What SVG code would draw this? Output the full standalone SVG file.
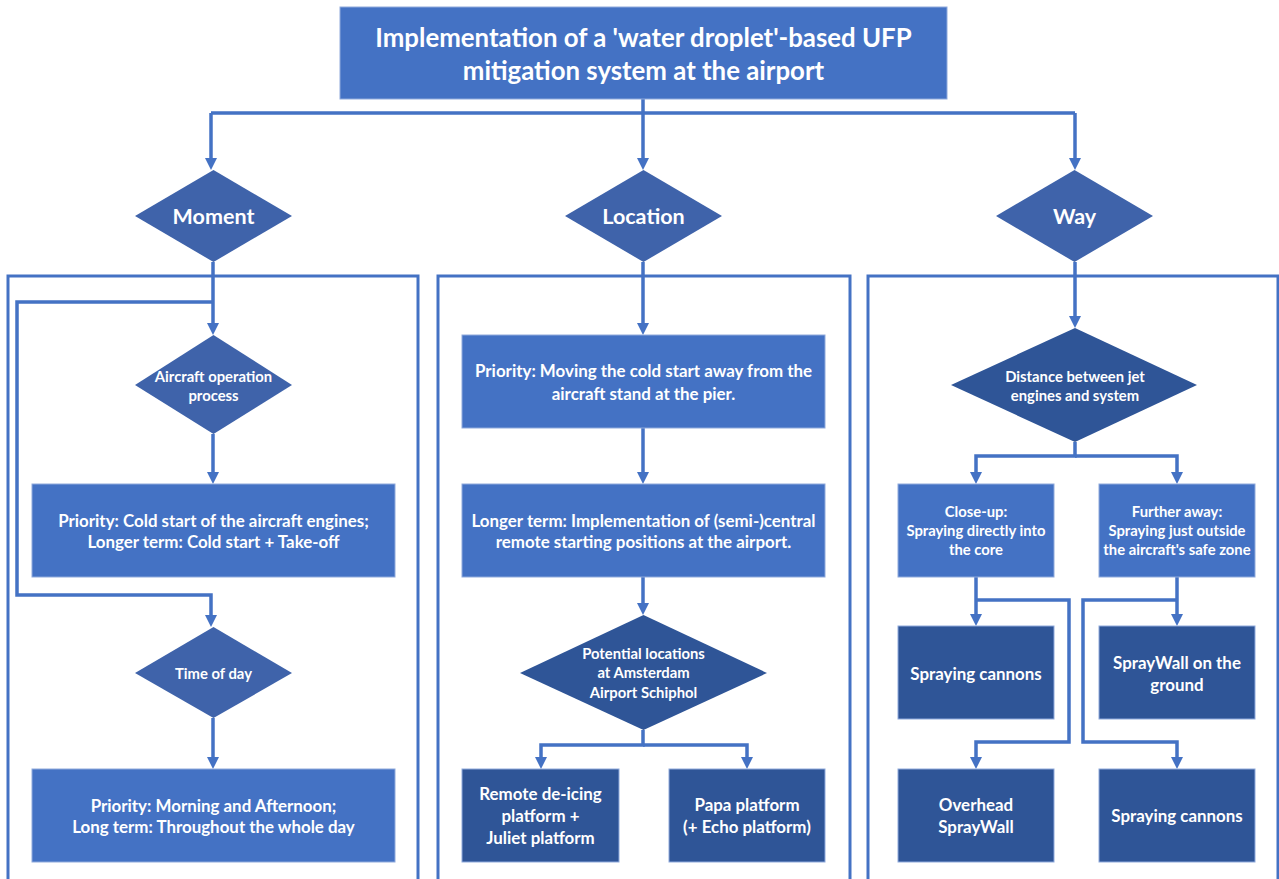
<svg xmlns="http://www.w3.org/2000/svg" width="1279" height="879" viewBox="0 0 1279 879">
  <style>
    .light { fill: #4472C4; stroke: #8FAADC; stroke-width: 1; }
    .dark { fill: #2F5597; stroke: #8FAADC; stroke-width: 1; }
    .dmid { fill: #3F63AA; }
    .ddark { fill: #2F5597; }
    .panel { fill: none; stroke: #4472C4; stroke-width: 3; }
    .conn { fill: none; stroke: #4472C4; stroke-width: 3.5; }
    .arr { marker-end: url(#ah); }
    text { font-family: Lato, "Open Sans", "Liberation Sans", sans-serif; font-weight: bold; fill: #FFFFFF; text-anchor: middle; dominant-baseline: central; }
    .t24 { font-size: 25.8px; }
    .t19 { font-size: 21.5px; }
    .t16 { font-size: 16.9px; }
    .t15 { font-size: 16.9px; }
    .t14 { font-size: 14.8px; }
  </style>
  <defs>
    <marker id="ah" viewBox="0 0 12 12" refX="6" refY="6" markerWidth="12" markerHeight="12" markerUnits="userSpaceOnUse" orient="auto">
      <path d="M0,0 L12,6 L0,12 z" fill="#4472C4"/>
    </marker>
  </defs>
  <rect width="1279" height="879" fill="#FFFFFF"/>

  <!-- column panels -->
  <g id="panels">
    <rect class="panel" x="8" y="276" width="410" height="640"/>
    <rect class="panel" x="438" y="276" width="412" height="640"/>
    <rect class="panel" x="868" y="276" width="410" height="640"/>
  </g>

  <!-- connectors -->
  <g id="connectors">
    <path class="conn" d="M643,99 V113 M211,113 H1075"/>
    <path class="conn arr" d="M211,113 V164"/>
    <path class="conn arr" d="M643,113 V164"/>
    <path class="conn arr" d="M1075,113 V164"/>
    <!-- Moment -->
    <path class="conn arr" d="M213,262 V329"/>
    <path class="conn arr" d="M213,302 H17 V595 H211 V621"/>
    <path class="conn arr" d="M213,434 V478"/>
    <path class="conn arr" d="M213,718 V763"/>
    <!-- Location -->
    <path class="conn arr" d="M643,262 V329"/>
    <path class="conn arr" d="M643,428 V478"/>
    <path class="conn arr" d="M643,577 V609"/>
    <path class="conn arr" d="M643,730 V745 H541 V763"/>
    <path class="conn arr" d="M643,745 H747 V763"/>
    <!-- Way -->
    <path class="conn arr" d="M1075,262 V322"/>
    <path class="conn arr" d="M1075,442 V456 H976 V478"/>
    <path class="conn arr" d="M1075,456 H1177 V478"/>
    <path class="conn arr" d="M976,577 V620"/>
    <path class="conn arr" d="M976,600 H1069 V742 H976 V763"/>
    <path class="conn arr" d="M1177,577 V620"/>
    <path class="conn arr" d="M1177,600 H1083 V742 H1177 V763"/>
  </g>

  <g id="title">
    <rect class="light" x="340" y="7" width="607" height="92"/>
    <text class="t24" x="643.5" y="37">Implementation of a 'water droplet'-based UFP</text>
    <text class="t24" x="643.5" y="70">mitigation system at the airport</text>
  </g>

  <g id="moment">
    <polygon class="dmid" points="213.5,170 292,216 213.5,262 135,216"/>
    <text class="t19" x="213.5" y="216">Moment</text>
  </g>
  <g id="location">
    <polygon class="dmid" points="643.5,170 722,216 643.5,262 565,216"/>
    <text class="t19" x="643.5" y="216">Location</text>
  </g>
  <g id="way">
    <polygon class="dmid" points="1074.5,170 1153,216 1074.5,262 996,216"/>
    <text class="t19" x="1074.5" y="216">Way</text>
  </g>

  <!-- Moment column -->
  <g id="aircraft-operation">
    <polygon class="dmid" points="213.5,335 292,385 213.5,434 135,385"/>
    <text class="t14" x="213.5" y="376">Aircraft operation</text>
    <text class="t14" x="213.5" y="395">process</text>
  </g>
  <g id="cold-start">
    <rect class="light" x="32" y="484" width="363" height="93"/>
    <text class="t15" x="213.5" y="520">Priority: Cold start of the aircraft engines;</text>
    <text class="t15" x="213.5" y="541">Longer term: Cold start + Take-off</text>
  </g>
  <g id="time-of-day">
    <polygon class="dmid" points="213.5,627 292,673 213.5,718 135,673"/>
    <text class="t14" x="213.5" y="673">Time of day</text>
  </g>
  <g id="day-period">
    <rect class="light" x="32" y="769" width="363" height="93"/>
    <text class="t15" x="213.5" y="805">Priority: Morning and Afternoon;</text>
    <text class="t15" x="213.5" y="826">Long term: Throughout the whole day</text>
  </g>

  <!-- Location column -->
  <g id="move-cold-start">
    <rect class="light" x="462" y="335" width="363" height="93"/>
    <text class="t15" x="643.5" y="370">Priority: Moving the cold start away from the</text>
    <text class="t15" x="643.5" y="393">aircraft stand at the pier.</text>
  </g>
  <g id="remote-positions">
    <rect class="light" x="462" y="484" width="363" height="93"/>
    <text class="t15" x="643.5" y="520">Longer term: Implementation of (semi-)central</text>
    <text class="t15" x="643.5" y="541">remote starting positions at the airport.</text>
  </g>
  <g id="potential-locations">
    <polygon class="ddark" points="643.5,615 767,673 643.5,730 520,673"/>
    <text class="t14" x="643.5" y="653">Potential locations</text>
    <text class="t14" x="643.5" y="672">at Amsterdam</text>
    <text class="t14" x="643.5" y="692">Airport Schiphol</text>
  </g>
  <g id="remote-deicing">
    <rect class="dark" x="462" y="769" width="157" height="93"/>
    <text class="t16" x="540.5" y="793">Remote de-icing</text>
    <text class="t16" x="540.5" y="815">platform +</text>
    <text class="t16" x="540.5" y="837">Juliet platform</text>
  </g>
  <g id="papa-platform">
    <rect class="dark" x="669" y="769" width="156" height="93"/>
    <text class="t16" x="747" y="804">Papa platform</text>
    <text class="t16" x="747" y="826">(+ Echo platform)</text>
  </g>

  <!-- Way column -->
  <g id="distance">
    <polygon class="ddark" points="1075,328 1197,385 1075,442 951,385"/>
    <text class="t14" x="1075" y="376">Distance between jet</text>
    <text class="t14" x="1075" y="395">engines and system</text>
  </g>
  <g id="close-up">
    <rect class="light" x="898" y="484" width="156" height="93"/>
    <text class="t14" x="976" y="511">Close-up:</text>
    <text class="t14" x="976" y="530">Spraying directly into</text>
    <text class="t14" x="976" y="549">the core</text>
  </g>
  <g id="further-away">
    <rect class="light" x="1099" y="484" width="156" height="93"/>
    <text class="t14" x="1177" y="511">Further away:</text>
    <text class="t14" x="1177" y="530">Spraying just outside</text>
    <text class="t14" x="1177" y="549">the aircraft's safe zone</text>
  </g>
  <g id="spraying-cannons-1">
    <rect class="dark" x="898" y="626" width="156" height="93"/>
    <text class="t16" x="976" y="673">Spraying cannons</text>
  </g>
  <g id="spraywall-ground">
    <rect class="dark" x="1099" y="626" width="156" height="93"/>
    <text class="t16" x="1177" y="662">SprayWall on the</text>
    <text class="t16" x="1177" y="684">ground</text>
  </g>
  <g id="overhead-spraywall">
    <rect class="dark" x="898" y="769" width="156" height="93"/>
    <text class="t16" x="976" y="804">Overhead</text>
    <text class="t16" x="976" y="826">SprayWall</text>
  </g>
  <g id="spraying-cannons-2">
    <rect class="dark" x="1099" y="769" width="156" height="93"/>
    <text class="t16" x="1177" y="815">Spraying cannons</text>
  </g>
</svg>
